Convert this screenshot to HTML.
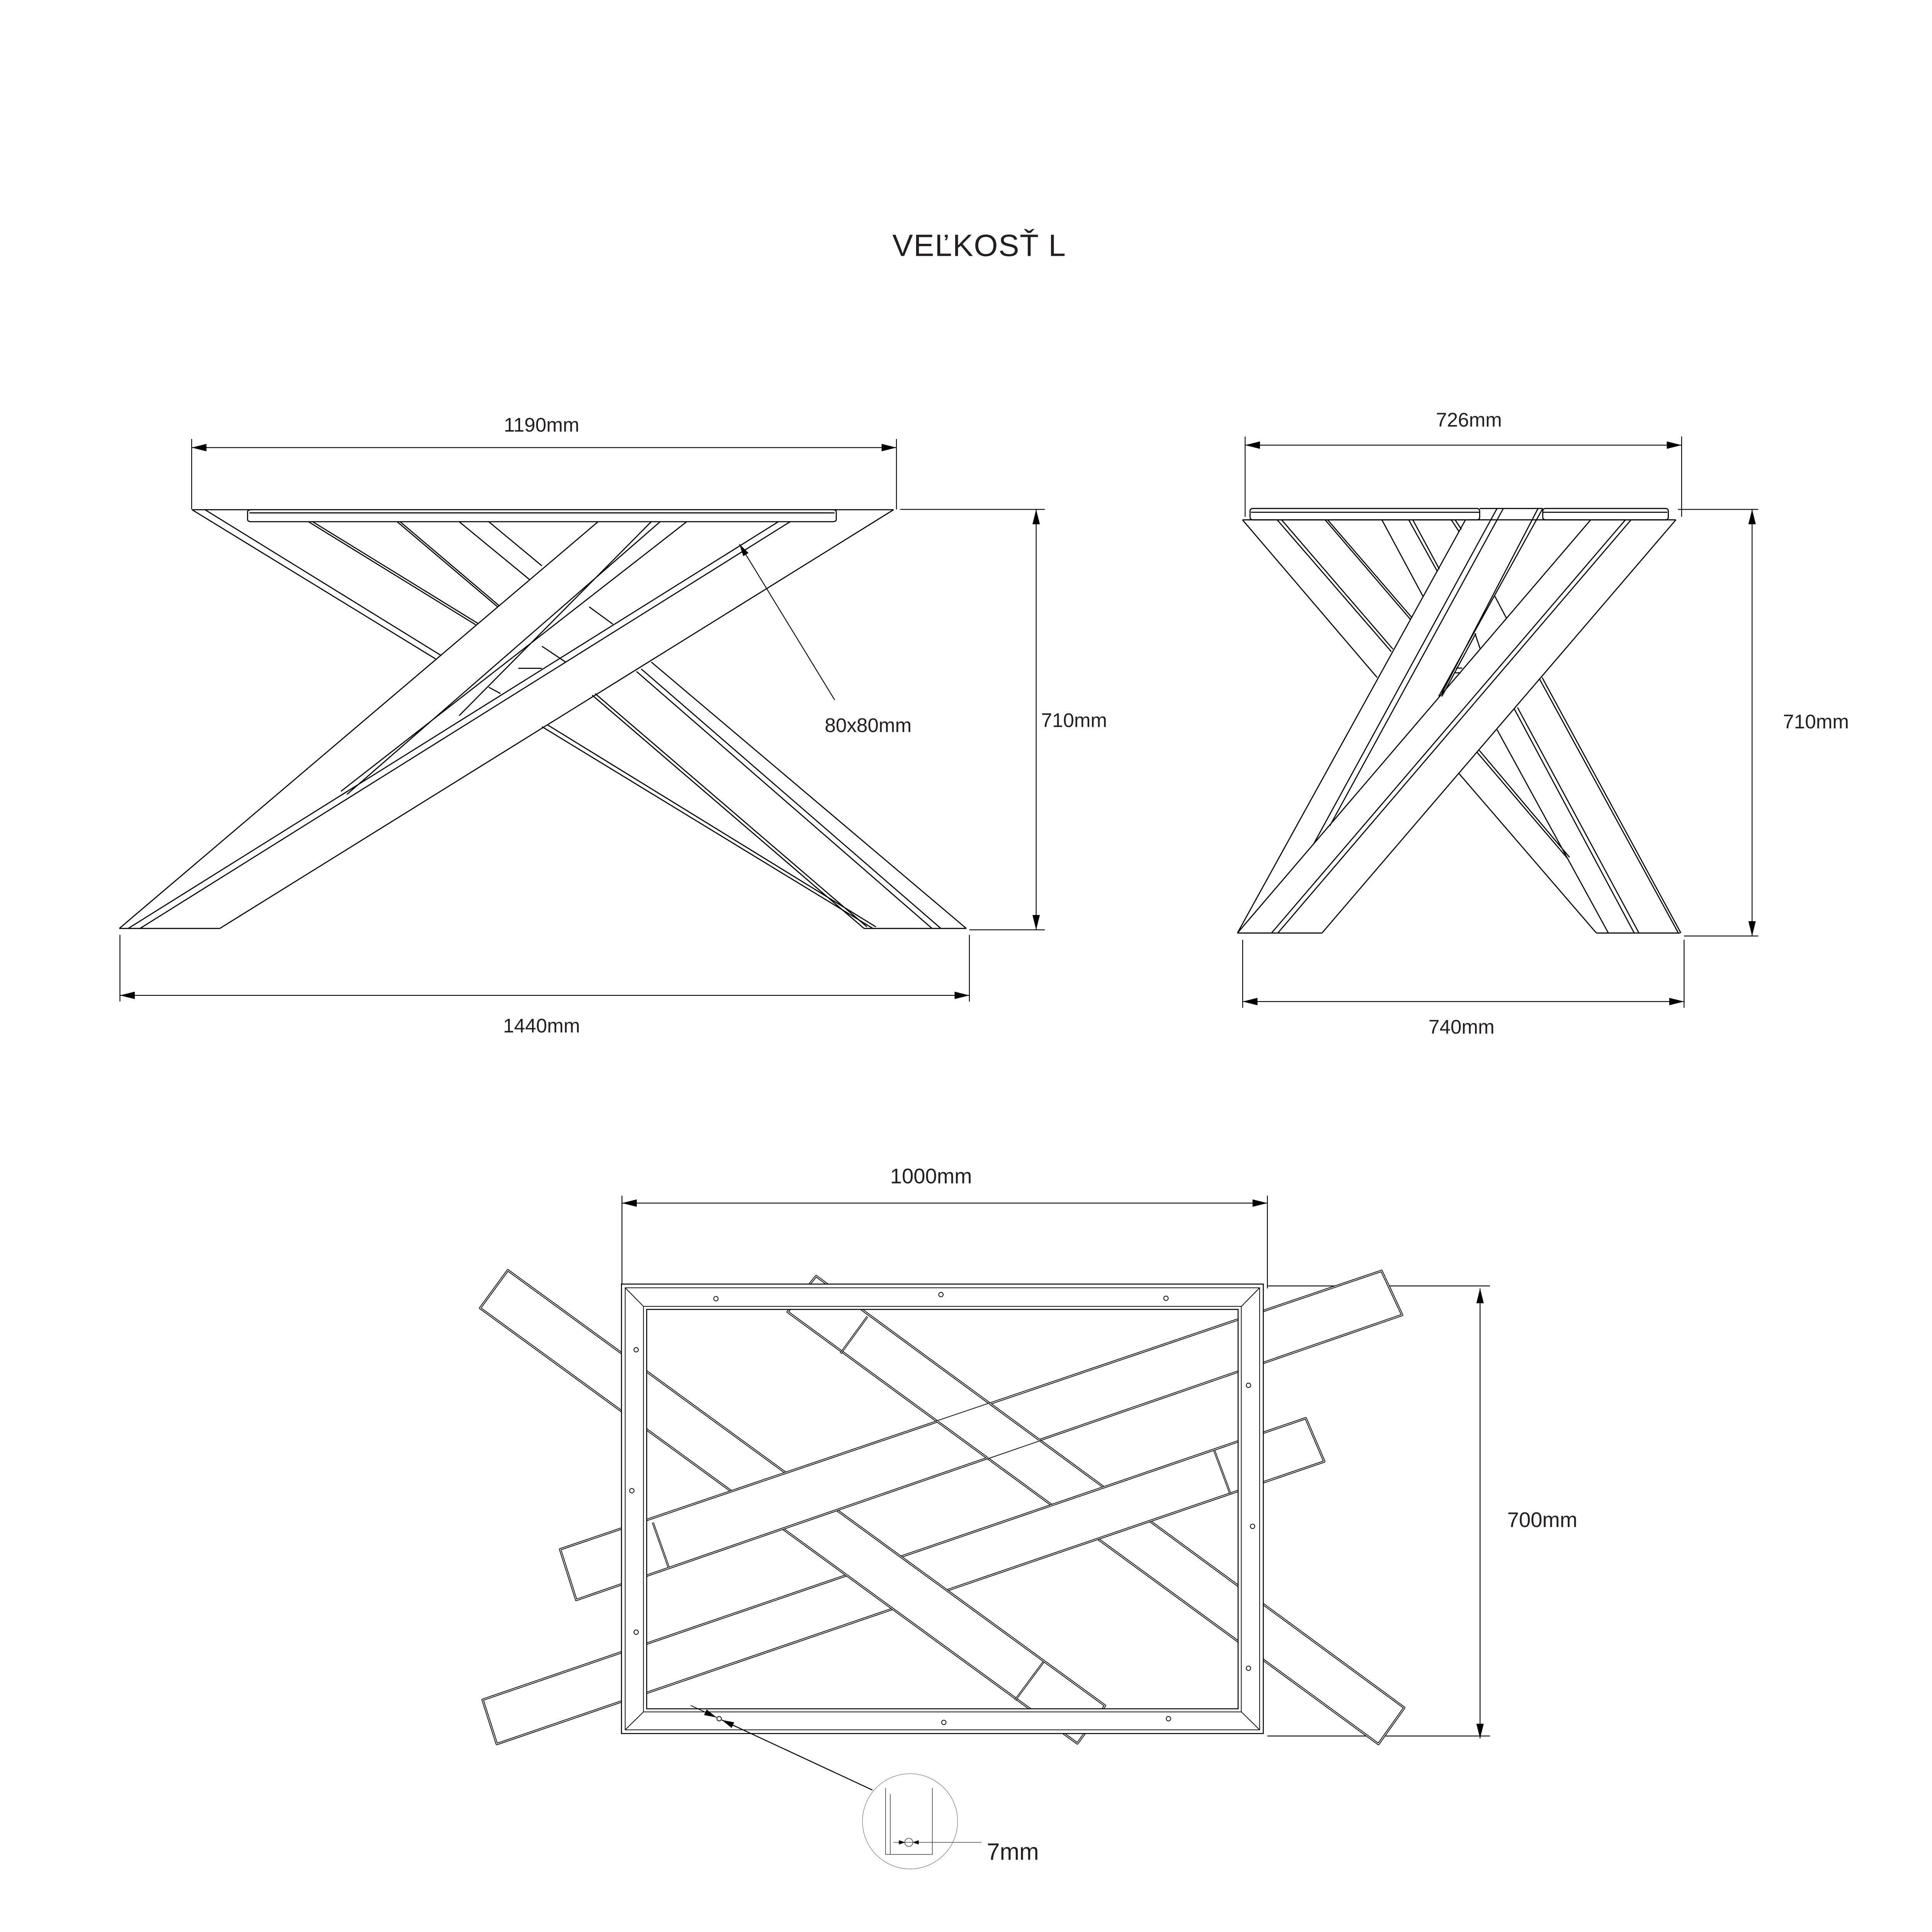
<!DOCTYPE html>
<html><head><meta charset="utf-8"><style>
html,body{margin:0;padding:0;background:#fff;overflow:hidden;width:100%;height:100%}
svg{display:block;width:100vw;height:100vh}
text{font-family:"Liberation Sans",sans-serif;fill:#231f20}
</style></head><body>
<svg viewBox="0 0 1562.5 1562.5" preserveAspectRatio="xMinYMin meet" xmlns="http://www.w3.org/2000/svg">
<defs>
<marker id="ar" viewBox="0 0 12 6" refX="12" refY="3" markerWidth="12" markerHeight="6" markerUnits="userSpaceOnUse" orient="auto-start-reverse"><path d="M0,0 L12,3 L0,6z" fill="#000"/></marker>
<marker id="ar2" viewBox="0 0 12 6" refX="12" refY="3" markerWidth="10" markerHeight="5" markerUnits="userSpaceOnUse" orient="auto"><path d="M0,0 L12,3 L0,6z" fill="#000"/></marker>
</defs>
<rect width="1562.5" height="1562.5" fill="#fff"/>

<text x="792" y="207" font-size="25" text-anchor="middle" letter-spacing="0.5">VEĽKOSŤ L</text>

<!-- ============ FRONT VIEW ============ -->
<g stroke="#000" stroke-width="0.7" fill="none">
<line x1="155" y1="362" x2="725" y2="362" marker-start="url(#ar)" marker-end="url(#ar)"/>
<line x1="155" y1="355" x2="155" y2="412"/><line x1="725" y1="355" x2="725" y2="412"/>
<line x1="838" y1="412" x2="838" y2="752" marker-start="url(#ar)" marker-end="url(#ar)"/>
<line x1="728" y1="412" x2="845" y2="412"/><line x1="784" y1="752" x2="845" y2="752"/>
<line x1="97" y1="805" x2="784" y2="805" marker-start="url(#ar)" marker-end="url(#ar)"/>
<line x1="97" y1="756" x2="97" y2="810"/><line x1="784" y1="756" x2="784" y2="810"/>
<line x1="675" y1="566" x2="598" y2="440" marker-end="url(#ar2)"/>
</g>
<text x="438" y="349" font-size="16" text-anchor="middle">1190mm</text>
<text x="667" y="592" font-size="16">80x80mm</text>
<text x="842" y="588" font-size="16">710mm</text>
<text x="438" y="835" font-size="16" text-anchor="middle">1440mm</text>

<g transform="translate(75,387.5) scale(0.478,0.255)" fill="none" stroke="#000">
<path vector-effect="non-scaling-stroke" stroke-width="2.8" d="M168,97 L1355,97"/>
<rect vector-effect="non-scaling-stroke" stroke-width="2.8" x="262" y="97" width="996" height="38" rx="6"/>
<path vector-effect="non-scaling-stroke" stroke-width="2.8" d="M265,107 L1255,107 M168,97 L580,570 M190,97 L590,560 M365,135 L648,462 M372,135 L652,458 M515,135 L685,405 M520,135 L688,402 M620,135 L740,320 M670,135 L760,275
M760,785 L1320,1425 M770,780 L1325,1420 M845,685 L1305,1425 M850,680 L1310,1420 M920,610 L1420,1425 M928,602 L1435,1425 M945,580 L1478,1425
M45,1425 L215,1425 M1305,1425 L1478,1425
M1355,97 L215,1425 M1180,135 L80,1425 M1160,135 L60,1425 M855,135 L45,1425 M1005,135 L420,990 M960,135 L430,1000 M945,135 L620,750
M840,405 L880,460 M760,530 L800,580 M720,600 L760,600 M670,660 L690,680"/>
</g>

<!-- ============ SIDE VIEW ============ -->
<g stroke="#000" stroke-width="0.7" fill="none">
<line x1="1007" y1="360" x2="1360" y2="360" marker-start="url(#ar)" marker-end="url(#ar)"/>
<line x1="1007" y1="353" x2="1007" y2="418"/><line x1="1360" y1="353" x2="1360" y2="418"/>
<line x1="1417" y1="412" x2="1417" y2="757" marker-start="url(#ar)" marker-end="url(#ar)"/>
<line x1="1357" y1="412" x2="1422" y2="412"/><line x1="1362" y1="757" x2="1422" y2="757"/>
<line x1="1005" y1="810" x2="1362" y2="810" marker-start="url(#ar)" marker-end="url(#ar)"/>
<line x1="1005" y1="760" x2="1005" y2="815"/><line x1="1362" y1="760" x2="1362" y2="815"/>
</g>
<text x="1188" y="345" font-size="16" text-anchor="middle">726mm</text>
<text x="1442" y="589" font-size="16">710mm</text>
<text x="1182" y="836" font-size="16" text-anchor="middle">740mm</text>

<g transform="translate(987.5,400) scale(0.2551)" fill="none" stroke="#000">
<rect vector-effect="non-scaling-stroke" stroke-width="2.8" x="92" y="44" width="728" height="36" rx="8"/>
<rect vector-effect="non-scaling-stroke" stroke-width="2.8" x="1020" y="44" width="398" height="36" rx="8"/>
<path vector-effect="non-scaling-stroke" stroke-width="2.8" d="M820,44 L1020,44 M95,56 L820,56 M1020,56 L1415,56 M68,80 L1442,80 M52,1390 L320,1390 M1190,1390 L1455,1390
M68,80 L495,580 M178,80 L540,498 M192,80 L545,490 M330,80 L600,395 M338,80 L605,390 M510,80 L640,322 M595,80 L685,242 M608,80 L692,236 M730,80 L755,118 M742,80 L762,110
M755,885 L1190,1390 M810,815 L1100,1155 M818,810 L1105,1150 M875,745 L1228,1390 M930,680 L1310,1390 M940,675 L1325,1390 M1010,585 L1450,1390 M1018,580 L1458,1390
M868,322 L905,392 M805,440 L822,490
M1442,80 L320,1390 M1300,80 L180,1390 M1282,80 L160,1390 M1172,80 L52,1390
M775,80 L52,1390 M875,44 L295,1105 M895,44 L345,1050 M1020,44 L690,640 M1005,44 L700,630 M808,440 L700,640 M745,550 L765,550 M742,565 L760,565"/>
</g>

<!-- ============ PLAN VIEW ============ -->
<g stroke="#000" stroke-width="0.7" fill="none">
<line x1="503" y1="973" x2="1025" y2="973" marker-start="url(#ar)" marker-end="url(#ar)"/>
<line x1="503" y1="967" x2="503" y2="1042"/><line x1="1025" y1="967" x2="1025" y2="1042"/>
<line x1="1197" y1="1042" x2="1197" y2="1406" marker-start="url(#ar)" marker-end="url(#ar)"/>
<line x1="1025" y1="1040" x2="1205" y2="1040"/><line x1="1025" y1="1404" x2="1205" y2="1404"/>
</g>
<text x="753" y="957" font-size="17" text-anchor="middle">1000mm</text>
<text x="1219" y="1235" font-size="17">700mm</text>

<g stroke-linejoin="round">
<polygon points="660,1032 1135.7,1381.1 1114.8,1410.5 637,1061" fill="#fff" stroke="#000" stroke-width="1.8"/>
<polygon points="660,1032 1135.7,1381.1 1114.8,1410.5 637,1061" fill="none" stroke="#fff" stroke-width="0.6"/>
<line x1="701.5" y1="1064.8" x2="679.8" y2="1094.6" stroke="#000" stroke-width="1.6"/><line x1="701.5" y1="1064.8" x2="679.8" y2="1094.6" stroke="#fff" stroke-width="0.5"/>
<polygon points="390.3,1374.7 1056,1147 1071,1182 401.8,1410.5" fill="#fff" stroke="#000" stroke-width="1.8"/>
<polygon points="390.3,1374.7 1056,1147 1071,1182 401.8,1410.5" fill="none" stroke="#fff" stroke-width="0.6"/>
<line x1="982" y1="1173" x2="995" y2="1208" stroke="#000" stroke-width="1.6"/><line x1="982" y1="1173" x2="995" y2="1208" stroke="#fff" stroke-width="0.5"/>
<polygon points="410.7,1027.3 893.7,1379.4 871.3,1410 388.3,1057.9" fill="#fff" stroke="#000" stroke-width="1.8"/>
<polygon points="410.7,1027.3 893.7,1379.4 871.3,1410 388.3,1057.9" fill="none" stroke="#fff" stroke-width="0.6"/>
<line x1="844" y1="1344" x2="821" y2="1375" stroke="#000" stroke-width="1.6"/><line x1="844" y1="1344" x2="821" y2="1375" stroke="#fff" stroke-width="0.5"/>
<polygon points="453,1253 1117.3,1027.8 1134,1063.5 466,1294" fill="#fff" stroke="#000" stroke-width="1.8"/>
<polygon points="453,1253 1117.3,1027.8 1134,1063.5 466,1294" fill="none" stroke="#fff" stroke-width="0.6"/>
<line x1="528" y1="1231.4" x2="540.8" y2="1267.6" stroke="#000" stroke-width="1.6"/><line x1="528" y1="1231.4" x2="540.8" y2="1267.6" stroke="#fff" stroke-width="0.5"/>
<clipPath id="c3"><polygon points="453,1253 1117.3,1027.8 1134,1063.5 466,1294"/></clipPath>
<g clip-path="url(#c3)"><polygon points="660,1032 1135.7,1381.1 1114.8,1410.5 637,1061" fill="#fff" stroke="#000" stroke-width="1.8"/>
<polygon points="660,1032 1135.7,1381.1 1114.8,1410.5 637,1061" fill="none" stroke="#fff" stroke-width="0.6"/></g>
</g>

<path fill="#fff" fill-rule="evenodd" stroke="#000" stroke-width="0.8" d="M502.6,1038.5 H1021.7 V1402 H502.6 Z M523,1059 H1001.3 V1382 H523 Z"/>
<g stroke="#000" stroke-width="0.6" fill="none">
<rect x="505.6" y="1041.5" width="513.1" height="357.5"/>
<rect x="520.4" y="1056.5" width="483.5" height="328"/>
<line x1="505.6" y1="1041.5" x2="520.4" y2="1056.5"/><line x1="1018.7" y1="1041.5" x2="1004" y2="1056.5"/>
<line x1="505.6" y1="1399" x2="520.4" y2="1384.5"/><line x1="1018.7" y1="1399" x2="1004" y2="1384.5"/>
</g>
<g stroke="#000" stroke-width="0.6" fill="#fff">
<circle cx="579" cy="1050.3" r="1.8"/><circle cx="761" cy="1047" r="1.8"/><circle cx="943" cy="1050" r="1.8"/>
<circle cx="514.5" cy="1091.6" r="1.8"/><circle cx="511" cy="1205.6" r="1.8"/><circle cx="514.5" cy="1320" r="1.8"/>
<circle cx="1009.7" cy="1120.4" r="1.8"/><circle cx="1013" cy="1234.4" r="1.8"/><circle cx="1009.7" cy="1349.2" r="1.8"/>
<circle cx="581.6" cy="1390" r="1.8"/><circle cx="763.3" cy="1393" r="1.8"/><circle cx="945" cy="1390" r="1.8"/>
</g>
<g stroke="#000" stroke-width="0.6" fill="none">
<line x1="558.7" y1="1379.3" x2="579.5" y2="1389" marker-end="url(#ar2)"/>
<line x1="705.6" y1="1447.7" x2="583.7" y2="1391" stroke-width="0.8" marker-end="url(#ar2)"/>
</g>
<circle cx="736" cy="1473" r="38.5" fill="none" stroke="#777" stroke-width="0.4"/>
<g stroke="#444" stroke-width="0.5" fill="none">
<path d="M716.2,1446 V1499.8 H754 V1446 M720,1451 V1499.8"/>
<line x1="722.5" y1="1490" x2="793.7" y2="1490"/>
<ellipse cx="735" cy="1490" rx="3.3" ry="3.3"/>
</g>
<path d="M727,1488.3 L732,1490 L727,1491.7z M743,1488.3 L738,1490 L743,1491.7z" fill="#000"/>
<text x="798" y="1504" font-size="19">7mm</text>
</svg>
</body></html>
